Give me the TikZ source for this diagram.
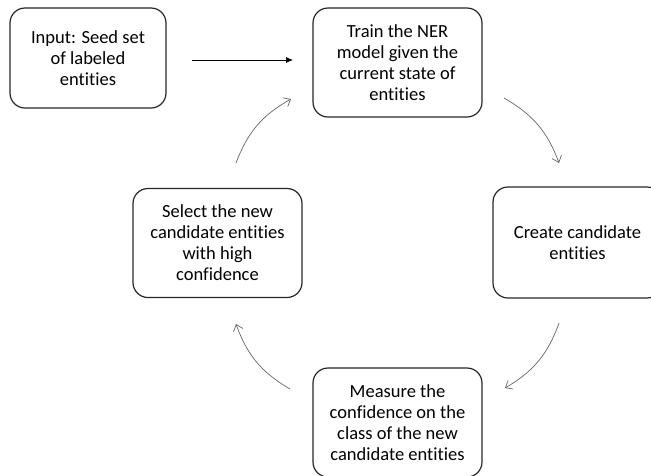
\documentclass[tikz,border=0pt]{standalone}
\usepackage{fontspec}
\setmainfont{Carlito}[Ligatures=NoCommon]
\usetikzlibrary{arrows.meta}

\begin{document}
\begin{tikzpicture}[x=1pt, y=-1pt,
stepbox/.style={rectangle, rounded corners=15pt, draw=black!85, line width=1.2pt, minimum width=169pt, minimum height=109pt, align=center, inner sep=0pt, font=\fontsize{18.5}{21}\selectfont},
cyclearrow/.style={draw=black!60, line width=0.7pt, -{Straight Barb[length=6pt,width=10pt]}, bend left=20},
]
\useasboundingbox (0,0) rectangle (651,475);
\clip (0,0) rectangle (651,475);

%Nodes
\node[stepbox, minimum width=156pt, minimum height=100pt] (input) at (88,58) {Input: Seed set\\of labeled\\entities};
\node[stepbox] (train) 		at (397.5,62.5) 	{Train the NER\\model given the\\current state of\\entities};
\node[stepbox, minimum height=111pt] (create) 	at (577.5,242.5) 	{Create candidate\\entities};
\node[stepbox] (measure) 	at (397.5,422.5) 	{Measure the\\confidence on the\\class of the new\\candidate entities};
\node[stepbox] (select) 	at (217.5,243) 	{Select the new\\candidate entities\\with high\\confidence};

%Arrow ends
\coordinate (input_out) at (192,60);
\coordinate (train_in) at (293,60);
\coordinate (train_out) at (504,98);
\coordinate (create_in) at (559,163);
\coordinate (create_out) at (559,323);
\coordinate (measure_in) at (505,388);
\coordinate (measure_out) at (290,389);
\coordinate (select_in) at (236,324);
\coordinate (select_out) at (236,163);
\coordinate (train_back) at (291,99);

%Lines
\draw[line width=0.7pt, -{Latex[length=7pt,width=6pt]}] (input_out) -- (train_in);
\draw[cyclearrow] (train_out) to (create_in);
\draw[cyclearrow] (create_out) to (measure_in);
\draw[cyclearrow] (measure_out) to (select_in);
\draw[cyclearrow] (select_out) to (train_back);

\end{tikzpicture}
\end{document}
